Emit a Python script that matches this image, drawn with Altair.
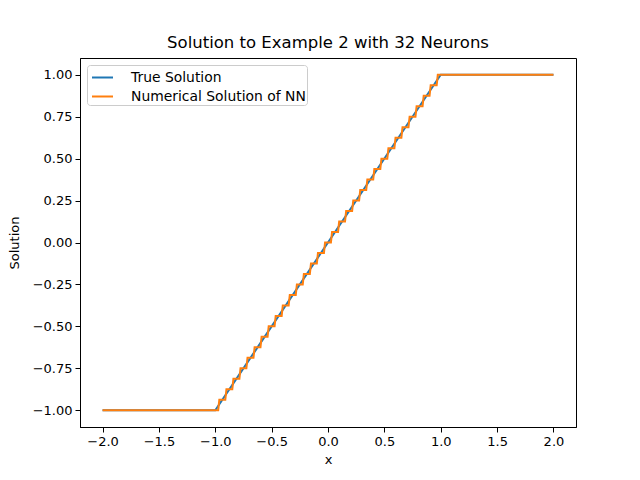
import altair as alt
import pandas as pd

# True solution: clamp(x, -1, 1)
true_x = [-2.0, -1.0, 1.0, 2.0]
true_y = [-1.0, -1.0, 1.0, 1.0]

# Numerical NN solution (staircase with 32 steps)
nn_x = [-2.0,
        -0.974, -0.964, -0.911, -0.901, -0.849, -0.839, -0.786, -0.776,
        -0.724, -0.714, -0.661, -0.651, -0.599, -0.589, -0.536, -0.526,
        -0.474, -0.464, -0.411, -0.401, -0.349, -0.339, -0.286, -0.276,
        -0.224, -0.214, -0.161, -0.151, -0.099, -0.089, -0.036, -0.026,
        0.026, 0.036, 0.089, 0.099, 0.151, 0.161, 0.214, 0.224,
        0.276, 0.286, 0.339, 0.349, 0.401, 0.411, 0.464, 0.474,
        0.526, 0.536, 0.589, 0.599, 0.651, 0.661, 0.714, 0.724,
        0.776, 0.786, 0.839, 0.849, 0.901, 0.911, 0.964, 0.974,
        2.0]
nn_y = [-1.0,
        -1.0, -0.9375, -0.9375, -0.875, -0.875, -0.8125, -0.8125, -0.75,
        -0.75, -0.6875, -0.6875, -0.625, -0.625, -0.5625, -0.5625, -0.5,
        -0.5, -0.4375, -0.4375, -0.375, -0.375, -0.3125, -0.3125, -0.25,
        -0.25, -0.1875, -0.1875, -0.125, -0.125, -0.0625, -0.0625, 0.0,
        0.0, 0.0625, 0.0625, 0.125, 0.125, 0.1875, 0.1875, 0.25,
        0.25, 0.3125, 0.3125, 0.375, 0.375, 0.4375, 0.4375, 0.5,
        0.5, 0.5625, 0.5625, 0.625, 0.625, 0.6875, 0.6875, 0.75,
        0.75, 0.8125, 0.8125, 0.875, 0.875, 0.9375, 0.9375, 1.0,
        1.0]

series = ["True Solution", "Numerical Solution of NN"]
colors = ["#1f77b4", "#ff7f0e"]
x_ticks = [-2.0, -1.5, -1.0, -0.5, 0.0, 0.5, 1.0, 1.5, 2.0]
y_ticks = [-1.0, -0.75, -0.5, -0.25, 0.0, 0.25, 0.5, 0.75, 1.0]

df_true = pd.DataFrame({"x": true_x, "y": true_y, "series": series[0],
                        "order": range(len(true_x))})
df_nn = pd.DataFrame({"x": nn_x, "y": nn_y, "series": series[1],
                      "order": range(len(nn_x))})

FONT = "DejaVu Sans"

x_enc = alt.X("x:Q", title="x",
              scale=alt.Scale(domain=[-2.2, 2.2], nice=False, zero=False),
              axis=alt.Axis(values=x_ticks, format=".1f"))
y_enc = alt.Y("y:Q", title="Solution",
              scale=alt.Scale(domain=[-1.1, 1.1], nice=False, zero=False),
              axis=alt.Axis(values=y_ticks, format=".2f"))
color_enc = alt.Color("series:N", title=None,
                      scale=alt.Scale(domain=series, range=colors),
                      legend=alt.Legend(orient="top-left", offset=7,
                                        symbolType="M-1,0H1", symbolSize=441,
                                        symbolStrokeWidth=2, symbolOffset=3,
                                        labelOffset=17,
                                        labelFontSize=13.9, labelFont=FONT,
                                        labelLimit=0, labelColor="black",
                                        fillColor="white", strokeColor="#cccccc",
                                        cornerRadius=3, padding=1, rowPadding=0))

base = alt.Chart().mark_line(strokeWidth=2).encode(
    x=x_enc, y=y_enc, color=color_enc, order="order:Q")

chart = alt.layer(
    base.properties(data=df_true),
    base.properties(data=df_nn),
).properties(
    width=496, height=369,
    title=alt.Title("Solution to Example 2 with 32 Neurons", fontSize=16.5,
                    fontWeight="normal", font=FONT, offset=7, color="black"),
    autosize=alt.AutoSizeParams(type="none"),
    padding={"left": 72, "top": 50, "right": 56, "bottom": 44},
).configure_view(
    stroke="black", strokeWidth=1
).configure_axis(
    grid=False, domainColor="black", tickColor="black", tickSize=5,
    labelFont=FONT, labelFontSize=13, labelColor="black",
    titleFont=FONT, titleFontSize=13, titleFontWeight="normal", titleColor="black",
    labelPadding=3, titlePadding=5,
).configure_axisY(titlePadding=11)

chart.save("out.html", embed_options={"renderer": "svg", "actions": False})
